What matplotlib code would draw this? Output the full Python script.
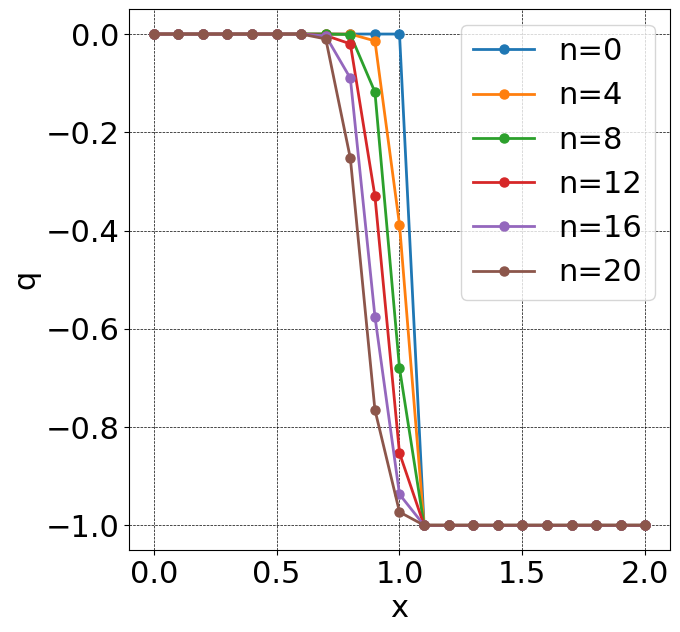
import numpy as np
import matplotlib
matplotlib.use("Agg")
import matplotlib.pyplot as plt

x = np.round(np.arange(0, 2.01, 0.1), 1)

# values at x = 0.6 .. 1.1; zeros before, -1 after
q_n0 = [0.0, 0.0, 0.0, 0.0, 0.0, -1.0]
q_n4 = [0.0, 0.0, 0.0, -0.014, -0.388, -1.0]
q_n8 = [0.0, 0.0, -0.001, -0.118, -0.68, -1.0]
q_n12 = [0.0, -0.003, -0.02, -0.33, -0.853, -1.0]
q_n16 = [0.0, -0.004, -0.09, -0.575, -0.937, -1.0]
q_n20 = [0.0, -0.01, -0.253, -0.765, -0.973, -1.0]

series = [("n=0", q_n0), ("n=4", q_n4), ("n=8", q_n8),
          ("n=12", q_n12), ("n=16", q_n16), ("n=20", q_n20)]

lead = [0.0] * 6
tail = [-1.0] * 9

plt.rcParams['font.size'] = 22

fig, ax = plt.subplots(figsize=(6.8, 6.32), dpi=100)
for label, mid in series:
    q = np.array(lead + mid + tail)
    ax.plot(x, q, marker='o', linewidth=2, markersize=6.5, label=label)

ax.set_xlabel("x")
ax.set_ylabel("q")
ax.grid(True, color='black', linestyle='--', linewidth=0.5)
ax.legend(loc='upper right')
fig.subplots_adjust(left=0.19, right=0.985, top=0.985, bottom=0.13)
fig.savefig("out.png")
